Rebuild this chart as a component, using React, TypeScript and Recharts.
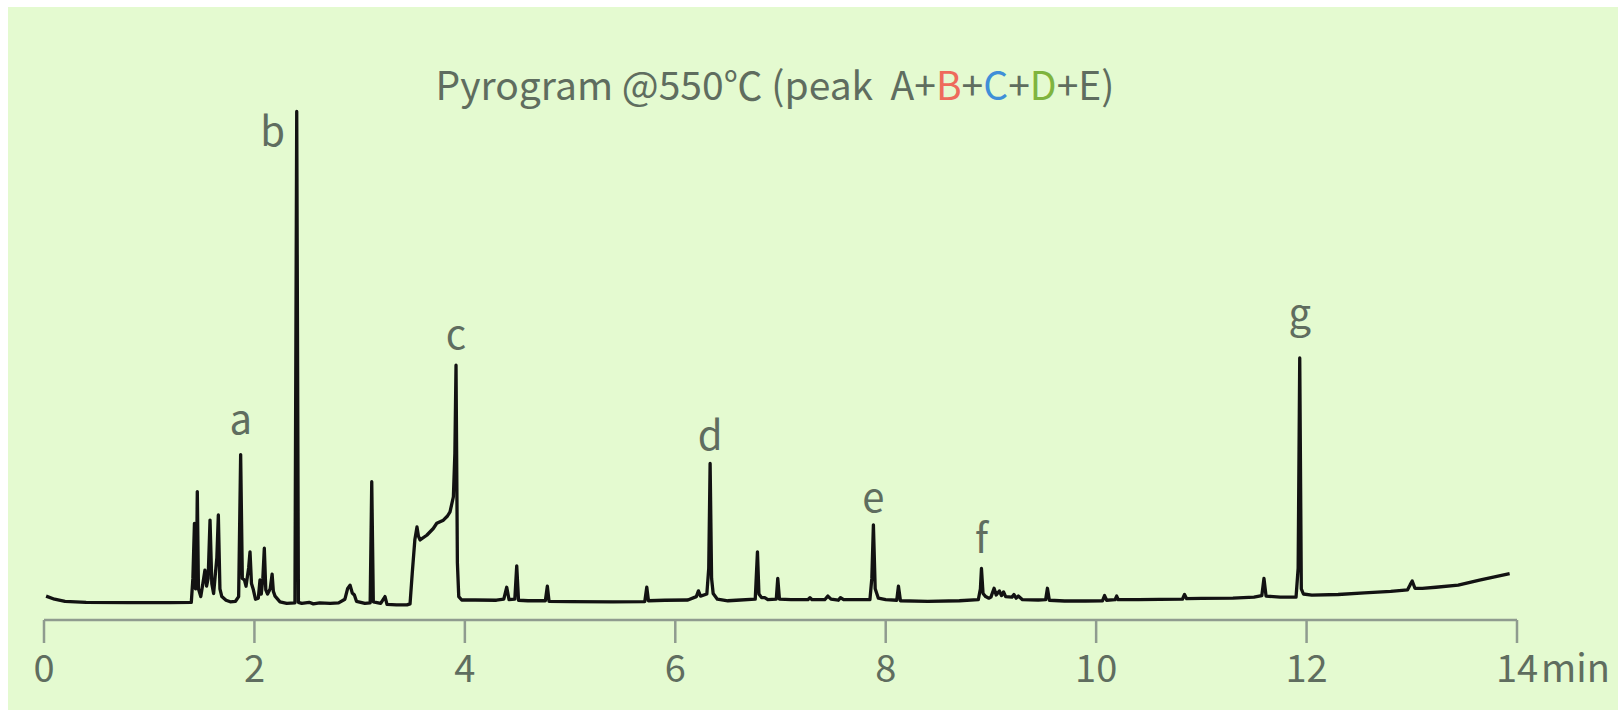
import React from 'react'
import { LineChart, Line, XAxis, YAxis } from 'recharts'

// Pyrolysis GC trace: [retention time (min), detector response (0–100 of full scale)]
const trace: [number, number][] = [
  [0.02, 4.6], [0.1, 4.0], [0.2, 3.6], [0.4, 3.4], [0.8, 3.35], [1.2, 3.35], [1.4, 3.4],
  // early cluster
  [1.415, 8], [1.43, 18.6], [1.44, 6], [1.45, 10], [1.457, 24.7], [1.468, 6], [1.49, 4.5],
  [1.51, 7], [1.53, 9.6], [1.545, 6.5], [1.56, 8], [1.578, 19.2], [1.595, 7], [1.612, 5.1],
  [1.625, 8], [1.643, 12], [1.657, 20.2], [1.672, 6], [1.69, 4.5], [1.73, 3.8], [1.77, 3.5],
  [1.82, 3.6], [1.85, 4.5], [1.869, 31.8], [1.885, 8], [1.905, 7.7], [1.92, 6.5], [1.945, 10],
  [1.958, 13.1], [1.972, 7], [1.99, 5.8], [2.01, 4.0], [2.037, 4.2], [2.053, 7.7], [2.065, 5],
  [2.08, 8], [2.094, 13.8], [2.108, 5.8], [2.125, 5], [2.15, 6], [2.168, 8.8], [2.18, 5.5],
  [2.196, 4.6], [2.243, 3.5], [2.307, 3.2], [2.385, 3.3],
  // main peak b
  [2.402, 97.8], [2.418, 3.4], [2.45, 3.2], [2.52, 3.4], [2.56, 3.1], [2.62, 3.3], [2.72, 3.2],
  [2.8, 3.3], [2.86, 4.0], [2.885, 6.0], [2.909, 6.7], [2.93, 5.2], [2.95, 4.8], [2.97, 3.6],
  [3.05, 3.2], [3.1, 3.3], [3.115, 26.6], [3.13, 3.5], [3.2, 3.2], [3.241, 4.5], [3.26, 3.0],
  [3.35, 2.9], [3.45, 2.9], [3.479, 3.1],
  // broad hump leading into c
  [3.5, 9], [3.525, 15.5], [3.545, 17.9], [3.558, 16.2], [3.574, 15.4], [3.638, 16.3],
  [3.7, 17.6], [3.733, 18.6], [3.796, 19.2], [3.835, 20], [3.859, 20.8], [3.891, 23.7],
  [3.905, 32], [3.916, 49.0], [3.929, 11], [3.942, 4.5], [3.97, 3.85],
  [4.1, 3.85], [4.3, 3.8], [4.37, 4.0], [4.398, 6.3], [4.42, 3.9], [4.475, 4.0], [4.493, 10.4],
  [4.51, 3.8], [4.6, 3.7], [4.765, 3.7], [4.784, 6.5], [4.8, 3.6], [5.0, 3.55], [5.4, 3.5],
  [5.71, 3.55], [5.729, 6.3], [5.745, 3.7], [5.9, 3.8], [6.12, 3.85], [6.2, 4.5], [6.22, 5.6],
  [6.24, 4.6], [6.3, 5.0], [6.318, 10], [6.331, 30.1], [6.345, 8], [6.36, 5.1], [6.4, 4.0],
  [6.5, 3.7], [6.58, 3.8], [6.76, 4.0], [6.781, 13.1], [6.795, 5], [6.82, 4.3], [6.85, 4.3],
  [6.88, 3.9], [6.96, 4.0], [6.974, 8.0], [6.99, 4.0], [7.1, 3.9], [7.26, 3.9], [7.28, 4.3],
  [7.3, 3.9], [7.42, 3.9], [7.45, 4.6], [7.48, 4.0], [7.55, 3.8], [7.57, 4.3], [7.6, 3.9],
  [7.85, 3.9], [7.868, 8], [7.883, 18.3], [7.9, 6], [7.93, 4.2], [8.0, 3.9], [8.105, 3.8],
  [8.121, 6.5], [8.14, 3.7], [8.4, 3.6], [8.7, 3.7], [8.88, 3.9], [8.9, 6], [8.91, 9.9],
  [8.925, 5.1], [8.95, 4.5], [8.98, 4.2], [9.0, 4.4], [9.03, 6.1], [9.05, 4.8], [9.08, 5.6],
  [9.1, 4.7], [9.12, 5.4], [9.14, 4.5], [9.2, 4.4], [9.219, 4.9], [9.24, 4.2], [9.26, 4.6],
  [9.3, 3.9], [9.45, 3.85], [9.52, 3.9], [9.537, 6.1], [9.555, 3.8], [9.7, 3.65], [9.9, 3.65],
  [10.06, 3.7], [10.08, 4.7], [10.1, 3.8], [10.18, 3.9], [10.195, 4.6], [10.21, 3.9],
  [10.4, 3.9], [10.6, 3.95], [10.82, 4.0], [10.84, 4.9], [10.86, 4.1], [11.0, 4.15],
  [11.3, 4.2], [11.5, 4.4], [11.575, 4.7], [11.595, 8.0], [11.615, 4.6], [11.75, 4.4],
  [11.9, 4.4], [11.92, 10], [11.935, 50.4], [11.95, 6], [11.97, 5.0], [12.05, 4.8],
  [12.3, 4.9], [12.55, 5.2], [12.8, 5.5], [12.96, 5.8], [12.985, 6.8], [13.004, 7.5],
  [13.03, 6.1], [13.1, 6.1], [13.229, 6.3], [13.441, 6.7], [13.654, 7.7], [13.93, 8.9],
]

// labelled peaks, by retention time of their apex in the trace
const peaks = [
  { id: 'a', t: 1.869 },
  { id: 'b', t: 2.402 },
  { id: 'c', t: 3.916 },
  { id: 'd', t: 6.331 },
  { id: 'e', t: 7.883 },
  { id: 'f', t: 8.91 },
  { id: 'g', t: 11.935 },
]

const timeTicks = [0, 2, 4, 6, 8, 10, 12, 14]

const titleParts = [
  { text: 'Pyrogram @550℃ (peak  A+', color: '#5f6d5f' },
  { text: 'B', color: '#ee6b5b' },
  { text: '+', color: '#5f6d5f' },
  { text: 'C', color: '#3f8fd8' },
  { text: '+', color: '#5f6d5f' },
  { text: 'D', color: '#7fb43e' },
  { text: '+E)', color: '#5f6d5f' },
]

// where each letter sits relative to its apex (px)
const labelNudge: Record<string, { dx: number; dy: number }> = {
  a: { dx: 0, dy: -21 },
  b: { dx: -24, dy: 35 },
  c: { dx: 0, dy: -16 },
  d: { dx: 0, dy: -13 },
  e: { dx: 0, dy: -13 },
  f: { dx: 0, dy: -16 },
  g: { dx: 0, dy: -30 },
}

const FONT = '"Noto Sans CJK SC", "Noto Sans", sans-serif'
const TEXT = '#5f6d5f'
const AXIS = '#8f9b8f'

const data = trace.map(([t, v]) => ({
  t,
  v,
  tag: peaks.find((p) => p.t === t)?.id,
}))

const PeakTag = (props: any) => {
  const { cx, cy, payload, index } = props
  if (!payload.tag) return <g key={index} />
  const n = labelNudge[payload.tag]
  return (
    <text
      key={index}
      x={cx + n.dx}
      y={cy + n.dy}
      textAnchor="middle"
      fill={TEXT}
      fontSize={40}
      fontFamily={FONT}
    >
      {payload.tag}
    </text>
  )
}

const TimeTick = (props: any) => {
  const { x, y, payload } = props
  return (
    <g>
      <text x={x} y={y} dy="0.71em" textAnchor="middle" fill={TEXT} fontSize={38} fontFamily={FONT}>
        {payload.value}
      </text>
      {payload.value === 14 && (
        <text x={x + 24} y={y} dy="0.71em" textAnchor="start" fill={TEXT} fontSize={38} fontFamily={FONT}>
          min
        </text>
      )}
    </g>
  )
}

export default function App() {
  return (
    <div
      style={{
        position: 'absolute',
        left: 8,
        top: 7,
        width: 1610,
        height: 703,
        background: '#e4fad0',
      }}
    >
      <LineChart
        width={1610}
        height={703}
        data={data}
        margin={{ top: 93, right: 101, bottom: 0, left: 36 }}
      >
        <XAxis
          type="number"
          dataKey="t"
          domain={[0, 14]}
          ticks={timeTicks}
          height={90}
          stroke={AXIS}
          strokeWidth={2.5}
          tickSize={23}
          tickMargin={12}
          tick={<TimeTick />}
        />
        <YAxis type="number" domain={[0, 100]} hide />
        <Line
          type="linear"
          dataKey="v"
          stroke="#121212"
          strokeWidth={3.3}
          strokeLinejoin="round"
          dot={PeakTag}
          activeDot={false}
          isAnimationActive={false}
        />
      </LineChart>
      <svg
        width={1610}
        height={120}
        style={{ position: 'absolute', left: 0, top: 0, pointerEvents: 'none' }}
      >
        <text
          x={767}
          y={93}
          textAnchor="middle"
          fontSize={39}
          fontFamily={FONT}
          style={{ whiteSpace: 'pre' }}
        >
          {titleParts.map((p, i) => (
            <tspan key={i} fill={p.color}>
              {p.text}
            </tspan>
          ))}
        </text>
      </svg>
    </div>
  )
}
